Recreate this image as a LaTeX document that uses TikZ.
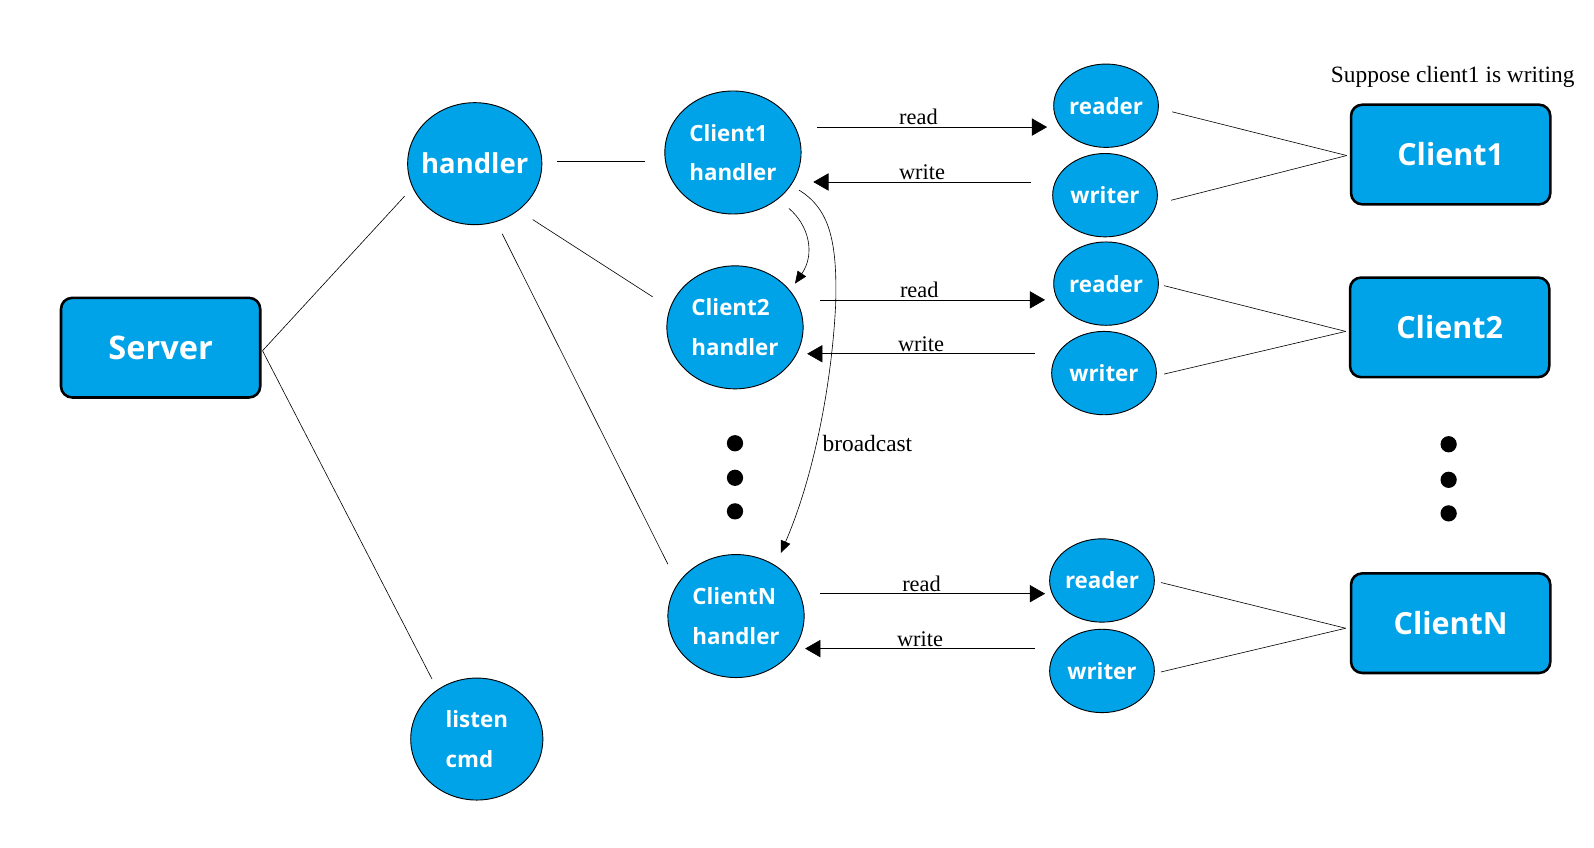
\documentclass[tikz,border=0pt]{standalone}
\usepackage{fontspec}
\setmainfont{Liberation Serif}
\newfontfamily\nodefont{Open Sans}
\usetikzlibrary{shapes.geometric,arrows.meta}
\definecolor{nodeblue}{HTML}{00A2E8}
\begin{document}
\begin{tikzpicture}[x=1pt,y=-1pt,
  ell/.style={ellipse, draw=black, line width=0.9pt, fill=nodeblue, text=white, inner sep=0pt, align=left, font=\nodefont\bfseries\fontsize{22}{39}\selectfont},
  hbig/.style={ell, minimum width=132pt, minimum height=120pt, inner xsep=-14pt, font=\nodefont\bfseries\fontsize{27}{32}\selectfont},
  chand/.style={ell, minimum width=134pt, minimum height=121pt},
  rw/.style={ell, minimum width=103pt, minimum height=82pt, inner xsep=-6pt},
  box/.style={draw=black, line width=2.5pt, rounded corners=11pt, fill=nodeblue, text=white, minimum width=196pt, minimum height=98pt, font=\nodefont\bfseries\fontsize{30}{36}\selectfont},
  conn/.style={line width=0.6pt},
  arr/.style={conn, -{Triangle[length=15pt,width=17pt]}},
  carr/.style={conn, -{Triangle[length=12pt,width=10pt]}},
  lbl/.style={font=\fontsize{22}{26}\selectfont, inner sep=2pt},
  dot/.style={circle, fill=black, minimum size=16pt, inner sep=0pt}
]
\fill[white] (0,0) rectangle (1568,834);
\useasboundingbox (0,0) rectangle (1568,834);

% main nodes
\node[box, font=\nodefont\bfseries\fontsize{32}{36}\selectfont] (server) at (158,342) {Server};
\node[hbig] (handler) at (467,161) {handler};
\node[ell, minimum width=130pt, minimum height=120pt] (listen) at (469,727) {listen\\cmd};
\node[chand] (c1h) at (721,150) {Client1\\handler};
\node[chand] (c2h) at (723,322) {Client2\\handler};
\node[chand] (cNh) at (724,606) {ClientN\\handler};
\node[rw] (r1) at (1088,104) {reader};
\node[rw] (w1) at (1087,192) {writer};
\node[rw] (r2) at (1088,279) {reader};
\node[rw] (w2) at (1086,367) {writer};
\node[rw] (rN) at (1084,571) {reader};
\node[rw] (wN) at (1084,660) {writer};
\node[box] (cl1) at (1427,152) {Client1};
\node[box] (cl2) at (1426,322) {Client2};
\node[box] (clN) at (1427,613) {ClientN};

% dots
\node[dot] (dl1) at (723,436) {};
\node[dot] (dl2) at (723,470) {};
\node[dot] (dl3) at (723,503) {};
\node[dot] (dr1) at (1425,437) {};
\node[dot] (dr2) at (1425,472) {};
\node[dot] (dr3) at (1425,505) {};

% texts
\node[lbl, font=\fontsize{23}{27}\selectfont] (sup) at (1429,76) {Suppose client1 is writing};
\node[lbl, font=\fontsize{23}{27}\selectfont, anchor=west] (bc) at (807,436) {broadcast};

% tree connectors
\draw[conn] ([shift={(1,3)}]server.east) -- ([shift={(-69,32)}]handler.center);
\draw[conn] ([shift={(1,3)}]server.east) -- ([shift={(-44,-59)}]listen.center);
\draw[conn] ([shift={(81,-2)}]handler.center) -- ([shift={(-87,9)}]c1h.center);
\draw[conn] ([shift={(57,55)}]handler.center) -- ([shift={(-81,-30)}]c2h.center);
\draw[conn] ([shift={(27,69)}]handler.center) -- ([shift={(-67,-51)}]cNh.center);

% read / write arrows
\draw[arr] ([shift={(83,-25)}]c1h.center) -- node[lbl,above,pos=0.44]{read} ([shift={(-58,21)}]r1.center);
\draw[arr] ([shift={(-73,-13)}]w1.center) -- node[lbl,above]{write} ([shift={(79,29)}]c1h.center);
\draw[arr] ([shift={(84,-27)}]c2h.center) -- node[lbl,above,pos=0.44]{read} ([shift={(-60,16)}]r2.center);
\draw[arr] ([shift={(-68,-19)}]w2.center) -- node[lbl,above]{write} ([shift={(71,26)}]c2h.center);
\draw[arr] ([shift={(83,-22)}]cNh.center) -- node[lbl,above,pos=0.45]{read} ([shift={(-56,13)}]rN.center);
\draw[arr] ([shift={(-66,-22)}]wN.center) -- node[lbl,above]{write} ([shift={(68,32)}]cNh.center);

% reader/writer to clients
\draw[conn] ([shift={(65,6)}]r1.center) -- ([shift={(-3,1)}]cl1.west);
\draw[conn] ([shift={(65,5)}]w1.center) -- ([shift={(-3,1)}]cl1.west);
\draw[conn] ([shift={(57,2)}]r2.center) -- ([shift={(-3,4)}]cl2.west);
\draw[conn] ([shift={(59,1)}]w2.center) -- ([shift={(-3,4)}]cl2.west);
\draw[conn] ([shift={(58,2)}]rN.center) -- ([shift={(-4,5)}]clN.west);
\draw[conn] ([shift={(58,1)}]wN.center) -- ([shift={(-4,5)}]clN.west);

% curved arrows
\draw[carr] ([shift={(55,55)}]c1h.center) .. controls (796,222) and (802,250) .. ([shift={(59,-43)}]c2h.center);
\coordinate (bmid) at (822,300);
\draw[carr] ([shift={(65,37)}]c1h.center) .. controls (815,205) and (824,235) .. (bmid)
  .. controls (818,380) and (800,470) .. ([shift={(44,-62)}]cNh.center);
\end{tikzpicture}
\end{document}
